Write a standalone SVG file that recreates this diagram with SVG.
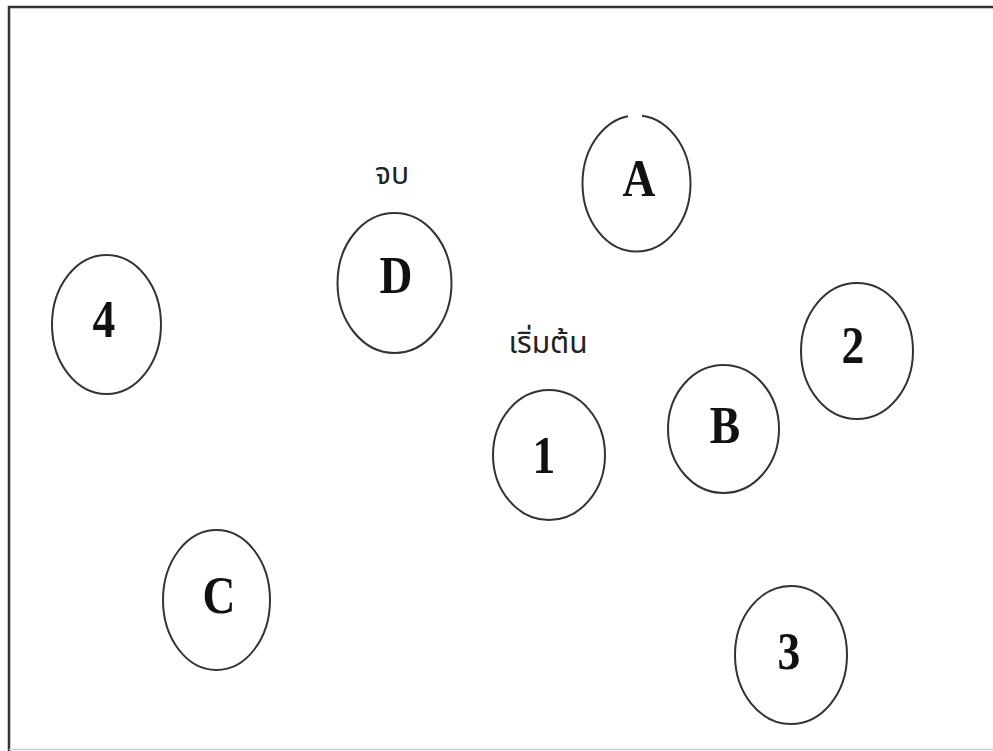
<svg xmlns="http://www.w3.org/2000/svg" width="993" height="751" viewBox="0 0 993 751">
<style>
.n ellipse{fill:#fff;stroke:#333;stroke-width:2}
.n text{font-family:"Liberation Serif","Times New Roman",serif;font-weight:bold;font-size:53px;fill:#111;text-anchor:middle}
.th{font-family:"Noto Sans","Noto Sans Thai","DejaVu Sans",sans-serif;font-size:30px;fill:#222;text-anchor:middle}
</style>
<rect x="0" y="0" width="993" height="751" fill="#fff"/>
<path d="M9,751 V7 H993" fill="none" stroke="#333" stroke-width="2.5"/>
<line x1="9" y1="749.5" x2="993" y2="749.5" stroke="#ccc" stroke-width="1.5"/>
<g id="connectors"></g>
<g id="node-A" class="n"><ellipse cx="636.5" cy="183.5" rx="54" ry="68"/><rect x="628" y="112" width="14" height="8" fill="#fff"/><text transform="translate(639,196) scale(0.86,1)">A</text></g>
<g id="node-D" class="n"><ellipse cx="394.5" cy="283" rx="57" ry="70"/><text transform="translate(396,293) scale(0.86,1)">D</text></g>
<g id="node-4" class="n"><ellipse cx="106.5" cy="324.5" rx="54.5" ry="69.5"/><text transform="translate(104,337) scale(0.86,1)">4</text></g>
<g id="node-2" class="n"><ellipse cx="857" cy="351" rx="56" ry="68"/><text transform="translate(853,363) scale(0.86,1)">2</text></g>
<g id="node-B" class="n"><ellipse cx="723.5" cy="429" rx="55.5" ry="64"/><text transform="translate(725,443) scale(0.86,1)">B</text></g>
<g id="node-1" class="n"><ellipse cx="549" cy="455" rx="56" ry="65"/><text transform="translate(544,473) scale(0.86,1)">1</text></g>
<g id="node-C" class="n"><ellipse cx="216.5" cy="600" rx="53.5" ry="70"/><text transform="translate(219,613) scale(0.86,1)">C</text></g>
<g id="node-3" class="n"><ellipse cx="791" cy="655" rx="56" ry="69"/><text transform="translate(789,669) scale(0.86,1)">3</text></g>
<g id="label-end"><text class="th" x="392" y="184">จบ</text></g>
<g id="label-start"><text class="th" x="548" y="353">เริ่มต้น</text></g>
</svg>
